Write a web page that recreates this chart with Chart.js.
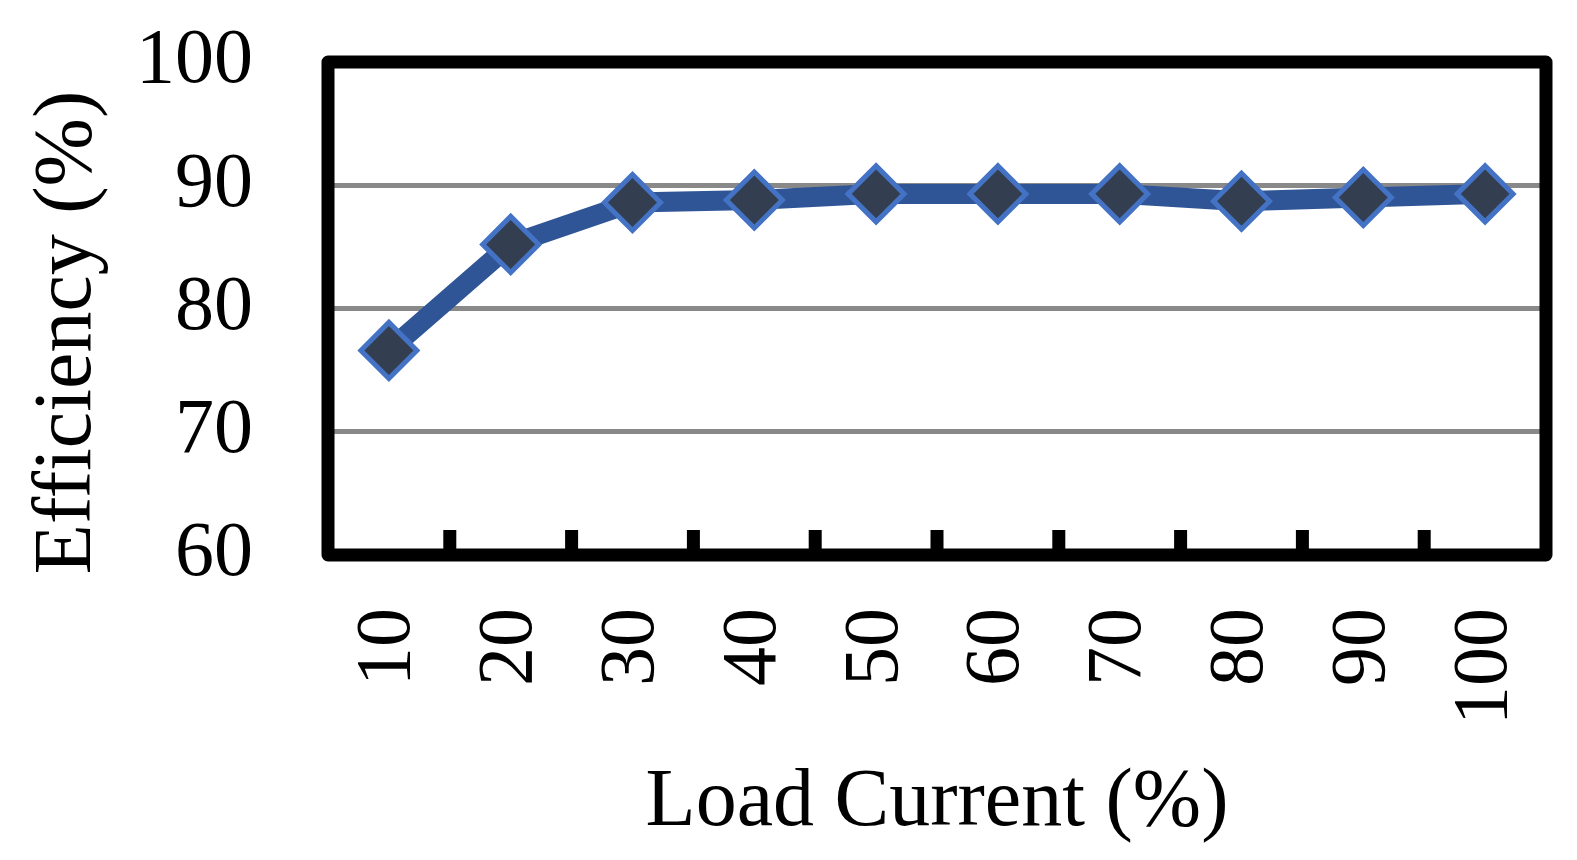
<!DOCTYPE html>
<html>
<head>
<meta charset="utf-8">
<script src="https://cdn.jsdelivr.net/npm/chart.js"></script>
<style>
  body { margin: 0; background: #fff; }
  canvas { display: block; }
</style>
</head>
<body>
<canvas id="myChart" width="1577" height="860"></canvas>
<script>
const loadLabels = ['10', '20', '30', '40', '50', '60', '70', '80', '90', '100'];
const efficiency = [76.6, 85.2, 88.6, 88.8, 89.3, 89.3, 89.3, 88.7, 89.0, 89.3];
const yTicks = [60, 70, 80, 90, 100];
const xTitle = 'Load Current (%)';
const yTitle = 'Efficiency (%)';

const serif = '"Liberation Serif", "Times New Roman", serif';

// black frame round the plot, plus the short inside ticks on the bottom edge
const framePlugin = {
  id: 'frame',
  afterDatasetsDraw(chart) {
    const { ctx, chartArea: a, scales } = chart;
    ctx.save();
    ctx.strokeStyle = '#000';
    ctx.lineWidth = 13;
    ctx.lineJoin = 'round';
    ctx.strokeRect(a.left, a.top, a.right - a.left, a.bottom - a.top);
    ctx.fillStyle = '#000';
    for (let i = 1; i < loadLabels.length; i++) {
      const x = (scales.x.getPixelForValue(i - 1) + scales.x.getPixelForValue(i)) / 2;
      ctx.fillRect(x - 6.5, a.bottom - 25, 13, 25);
    }
    ctx.restore();
  }
};

// y title sits a bit lower than the plot middle in the original
const yTitlePlugin = {
  id: 'yTitle',
  afterDraw(chart) {
    const { ctx, chartArea: a } = chart;
    ctx.save();
    ctx.font = '82px ' + serif;
    ctx.fillStyle = '#000';
    ctx.textAlign = 'center';
    ctx.textBaseline = 'alphabetic';
    ctx.translate(90, (a.top + a.bottom) / 2 + 24);
    ctx.rotate(-Math.PI / 2);
    ctx.fillText(yTitle, 0, 0);
    ctx.restore();
  }
};

const ctx = document.getElementById('myChart').getContext('2d');

const myChart = new Chart(ctx, {
  type: 'line',
  data: {
    labels: loadLabels,
    datasets: [{
      data: efficiency,
      borderColor: '#2F5597',
      borderWidth: 20,
      pointStyle: 'rectRot',
      pointRadius: 28,
      pointHoverRadius: 28,
      pointBorderWidth: 5,
      pointBackgroundColor: '#333F50',
      pointBorderColor: '#4472C4',
      tension: 0
    }]
  },
  options: {
    responsive: false,
    animation: false,
    devicePixelRatio: 1,
    layout: { autoPadding: false, padding: { top: 62, right: 31, left: 0, bottom: 0 } },
    plugins: {
      legend: { display: false },
      tooltip: { enabled: false }
    },
    scales: {
      x: {
        type: 'category',
        offset: true,
        grid: { display: false, drawTicks: false },
        border: { display: false },
        ticks: {
          autoSkip: false,
          minRotation: 90,
          maxRotation: 90,
          padding: 53,
          color: '#000',
          font: { family: serif, size: 78 }
        },
        title: {
          display: true,
          text: xTitle,
          color: '#000',
          padding: { top: 0, bottom: 7 },
          font: { family: serif, size: 82 }
        },
        afterFit(scale) {
          scale.height = 305;
          scale.paddingLeft = 0;
          scale.paddingRight = 0;
        }
      },
      y: {
        min: yTicks[0],
        max: yTicks[yTicks.length - 1],
        grid: { color: '#898989', lineWidth: 5, drawTicks: false },
        border: { display: false },
        afterBuildTicks(scale) { scale.ticks = yTicks.map(v => ({ value: v })); },
        ticks: {
          padding: 75,
          color: '#000',
          font: { family: serif, size: 78 }
        },
        afterFit(scale) {
          scale.width = 328;
          scale.paddingTop = 0;
          scale.paddingBottom = 0;
        }
      }
    }
  },
  plugins: [framePlugin, yTitlePlugin]
});
</script>
</body>
</html>
